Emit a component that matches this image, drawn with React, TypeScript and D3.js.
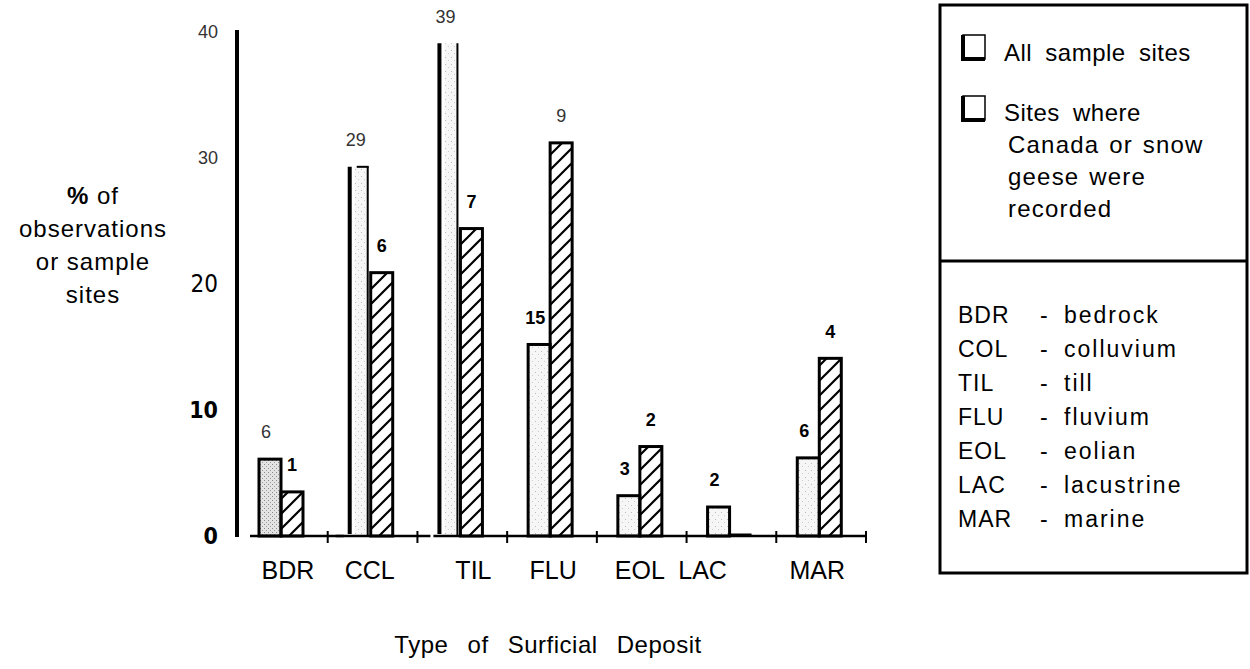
import React from "react";
import * as d3 from "d3";

// ---------- data ----------
const categories = ["BDR", "CCL", "TIL", "FLU", "EOL", "LAC", "MAR"];
const pctAllSites = [6.1, 29.3, 39.1, 15.2, 3.2, 2.3, 6.2];
const pctGeeseSites = [3.5, 20.9, 24.4, 31.2, 7.1, 0, 14.1];
const countAllSites = ["6", "29", "39", "15", "3", "2", "6"];
const countGeeseSites = ["1", "6", "7", "9", "2", "", "4"];
const yTicks = [0, 10, 20, 30, 40];
const yTitleLines = ["% of", "observations", "or sample", "sites"];
const xTitle = "Type of Surficial Deposit";
const legendSeries = [
  ["All sample sites"],
  ["Sites where", "Canada or snow", "geese were", "recorded"],
];
const legendAbbrev = ["BDR", "COL", "TIL", "FLU", "EOL", "LAC", "MAR"];
const legendMeaning = ["bedrock", "colluvium", "till", "fluvium", "eolian", "lacustrine", "marine"];

// ---------- styling config ----------
const lightLabels = new Set(["all-BDR", "all-CCL", "all-TIL", "geese-FLU"]);
const openBars = new Set(["CCL", "TIL"]); // all-sites bars printed faintly with heavy left rule
const labelNudge: Record<string, number> = { BDR: 7, CCL: -1, TIL: 13, FLU: 3, EOL: 0, LAC: -27, MAR: -2 };

const W = 1250;
const H = 669;
const FONT = "'Liberation Sans', Arial, Helvetica, sans-serif";
const NARROW = "'Liberation Sans Narrow', 'DejaVu Sans Condensed', 'Arial Narrow', sans-serif";

export default function App() {
  const y = d3.scaleLinear().domain([0, 40]).range([536, 32]);
  const x = d3.scaleBand<string>().domain(categories).range([238, 866]).padding(0);
  const bw = x.bandwidth();
  const barW = 22;
  const offAll = 21;
  const offGeese = 43;
  const base = y(0);

  const tickStyle = (t: number) => {
    if (t >= 30) return { fontSize: 18, fontWeight: 400, fontFamily: FONT, fill: "#333" };
    if (t === 20) return { fontSize: 24, fontWeight: 400, fontFamily: NARROW, fill: "#000" };
    return { fontSize: 23, fontWeight: 700, fontFamily: NARROW, fill: "#000" };
  };

  // baseline segments (broken in the original print)
  const segs = [
    [x("BDR")! + 12, x("BDR")! + bw + 16],
    [x("CCL")! + 8, x("CCL")! + bw + 13],
    [x("TIL")! + 16, x("MAR")! + bw + 1],
  ];

  return (
    <svg width={W} height={H} style={{ position: "absolute", left: 0, top: 0, background: "#fff" }}>
      <defs>
        <pattern id="hatch" patternUnits="userSpaceOnUse" width={15} height={15}>
          <path d="M0,15 L15,0 M-4,4 L4,-4 M11,19 L19,11" stroke="#000" strokeWidth={2.2} />
        </pattern>
        <pattern id="stippleDense" patternUnits="userSpaceOnUse" width={4} height={4}>
          <rect width={4} height={4} fill="#e4e4e4" />
          <rect x={0} y={0} width={1} height={1} fill="#888" />
          <rect x={2} y={2} width={1} height={1} fill="#999" />
        </pattern>
        <pattern id="stippleLight" patternUnits="userSpaceOnUse" width={6} height={7}>
          <rect width={6} height={7} fill="#f6f6f6" />
          <rect x={1} y={1} width={1} height={1} fill="#bbb" />
          <rect x={4} y={4} width={1} height={1} fill="#ccc" />
        </pattern>
      </defs>

      {/* y axis */}
      <line x1={237} x2={237} y1={y(40) - 2} y2={base + 1} stroke="#000" strokeWidth={4} />
      {yTicks.map((t) => (
        <text key={t} x={218} y={y(t)} dy="0.35em" textAnchor="end" {...tickStyle(t)}>
          {t}
        </text>
      ))}

      {/* y title */}
      {yTitleLines.map((l, i) => (
        <text
          key={l}
          x={93}
          y={196 + i * 33}
          dy="0.35em"
          textAnchor="middle"
          fontFamily={FONT}
          fontSize={24}
          letterSpacing={1}
        >
          {i === 0 ? (
            <>
              <tspan fontWeight={700}>%</tspan> of
            </>
          ) : (
            l
          )}
        </text>
      ))}

      {/* bars */}
      {categories.map((c, i) => {
        const xa = x(c)! + offAll;
        const xg = x(c)! + offGeese;
        const va = pctAllSites[i];
        const vg = pctGeeseSites[i];
        const open = openBars.has(c);
        return (
          <g key={c}>
            {open ? (
              <g>
                <rect x={xa + 6} y={y(va)} width={barW - 8} height={base - y(va)} fill="url(#stippleLight)" />
                <line x1={xa + 1} x2={xa + 1} y1={y(va)} y2={base - 2} stroke="#000" strokeWidth={4} />
                <line x1={xa + barW - 3} x2={xa + barW - 3} y1={y(va)} y2={base} stroke="#000" strokeWidth={2} />
                {c === "CCL" && (
                  <line x1={xa + 8} x2={xa + barW - 2} y1={y(va)} y2={y(va)} stroke="#000" strokeWidth={2} />
                )}
              </g>
            ) : (
              <rect
                x={xa}
                y={y(va)}
                width={barW}
                height={base - y(va)}
                fill={c === "BDR" ? "url(#stippleDense)" : "url(#stippleLight)"}
                stroke="#000"
                strokeWidth={3}
              />
            )}
            {vg > 0 ? (
              <rect x={xg} y={y(vg)} width={barW} height={base - y(vg)} fill="url(#hatch)" stroke="#000" strokeWidth={3} />
            ) : (
              <line x1={xg} x2={xg + barW} y1={base - 1} y2={base - 1} stroke="#000" strokeWidth={3} />
            )}
            {/* count labels */}
            {countAllSites[i] && (
              <text
                x={xa + barW / 2 - 4}
                y={y(va) - 27}
                dy="0.35em"
                textAnchor="middle"
                fontFamily={FONT}
                fontSize={18}
                fontWeight={lightLabels.has("all-" + c) ? 400 : 700}
                fill={lightLabels.has("all-" + c) ? "#333" : "#000"}
              >
                {countAllSites[i]}
              </text>
            )}
            {countGeeseSites[i] && (
              <text
                x={xg + barW / 2}
                y={y(vg) - 27}
                dy="0.35em"
                textAnchor="middle"
                fontFamily={FONT}
                fontSize={18}
                fontWeight={lightLabels.has("geese-" + c) ? 400 : 700}
                fill={lightLabels.has("geese-" + c) ? "#333" : "#000"}
              >
                {countGeeseSites[i]}
              </text>
            )}
            {/* boundary tick */}
            <line x1={x(c)! + bw} x2={x(c)! + bw} y1={base - 5} y2={base + 7} stroke="#000" strokeWidth={2} />
            {/* category label */}
            <text
              x={x(c)! + offGeese + (labelNudge[c] || 0)}
              y={570}
              dy="0.35em"
              textAnchor="middle"
              fontFamily={FONT}
              fontSize={25}
            >
              {c}
            </text>
          </g>
        );
      })}

      {/* baseline */}
      {segs.map(([a, b], i) => (
        <line key={i} x1={a} x2={b} y1={base} y2={base} stroke="#000" strokeWidth={2.5} />
      ))}

      {/* x title */}
      <text
        x={548}
        y={645}
        dy="0.35em"
        textAnchor="middle"
        fontFamily={FONT}
        fontSize={24}
        wordSpacing={12}
        letterSpacing={0.5}
      >
        {xTitle}
      </text>

      {/* legend */}
      <rect x={940} y={5} width={307} height={568} fill="none" stroke="#000" strokeWidth={3} />
      <line x1={940} x2={1247} y1={261} y2={261} stroke="#000" strokeWidth={3} />
      {legendSeries.map((lines, k) => {
        const top = k === 0 ? 35 : 96;
        const base0 = k === 0 ? 61 : 121;
        return (
          <g key={k}>
            <rect x={963} y={top} width={22} height={24} fill="#fff" stroke="#000" strokeWidth={1.5} />
            <path
              d={`M${963} ${top} L${963} ${top + 24} L${985} ${top + 24}`}
              fill="none"
              stroke="#000"
              strokeWidth={4}
            />
            {lines.map((t, j) => (
              <text
                key={t}
                x={j === 0 ? 1004 : 1008}
                y={base0 + j * 32}
                fontFamily={FONT}
                fontSize={24}
                letterSpacing={j === 0 ? 0.5 : 1.2}
                wordSpacing={j === 0 ? 6 : 2}
              >
                {t}
              </text>
            ))}
          </g>
        );
      })}
      {legendAbbrev.map((a, i) => (
        <g key={a} fontFamily={FONT} fontSize={23}>
          <text x={958} y={323 + i * 34} letterSpacing={1}>
            {a}
          </text>
          <text x={1040} y={323 + i * 34}>-</text>
          <text x={1064} y={323 + i * 34} letterSpacing={2}>
            {legendMeaning[i]}
          </text>
        </g>
      ))}
    </svg>
  );
}
